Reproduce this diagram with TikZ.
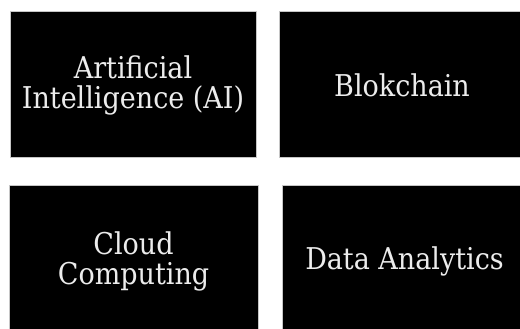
\documentclass[tikz,border=0pt]{standalone}
\usepackage{fontspec}
\newfontfamily\boxfont{DejaVu Serif Condensed}
\usetikzlibrary{positioning}
\tikzset{
  techbox/.style={rectangle, fill=black, draw=gray!45, line width=1pt,
    inner sep=0pt, align=center, text=gray!15,
    font=\boxfont\fontsize{30}{30}\selectfont},
}
\begin{document}
\begin{tikzpicture}[x=1pt,y=1pt]
\useasboundingbox (0,0) rectangle (520,329);
\clip (0,0) rectangle (520,329);
\fill[white] (0,0) rectangle (520,329);
\node[techbox, minimum width=246pt, minimum height=146pt] (ai) at (133,244) {Artificial\\Intelligence (AI)};
\node[techbox, minimum width=246pt, minimum height=146pt] (bc) at (402,244) {Blokchain};
\node[techbox, minimum width=249pt, minimum height=150pt] (cc) at (133.5,68) {Cloud\\Computing};
\node[techbox, minimum width=245pt, minimum height=150pt] (da) at (404.5,68) {Data Analytics};
\end{tikzpicture}
\end{document}
